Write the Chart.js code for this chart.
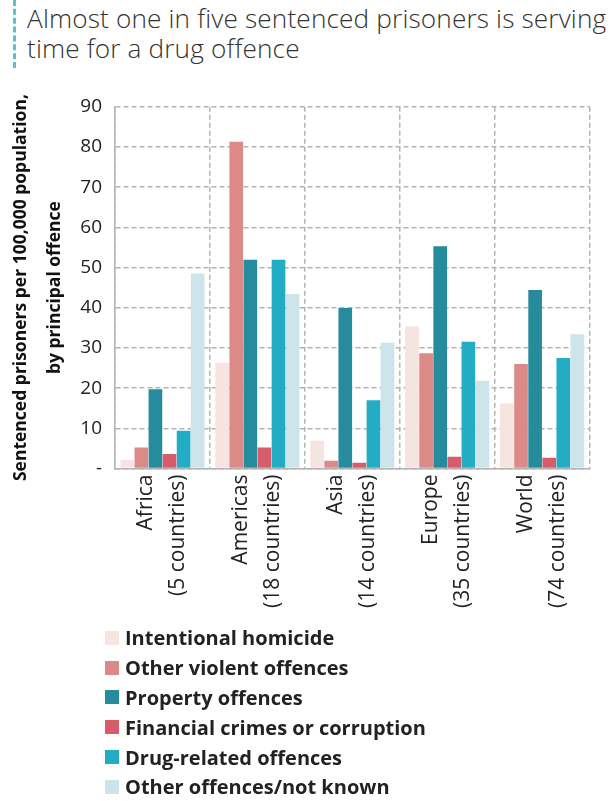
<!DOCTYPE html>
<html>
<head>
<meta charset="utf-8">
<script src="https://cdn.jsdelivr.net/npm/chart.js@4"></script>
<style>
  html, body { margin: 0; padding: 0; background: #fff; }
  body { width: 612px; height: 801px; position: relative; overflow: hidden; font-family: "Open Sans", "Noto Sans", sans-serif; }
  #rule { position: absolute; left: 13px; top: 0; height: 68px; border-left: 3px dashed #5bc0cf; }
  #title {
    position: absolute; left: 27px; top: 3px; width: 590px;
    font-size: 26.2px; line-height: 30px; color: #333; font-weight: 300; letter-spacing: 0.15px;
  }
  #wrap { position: absolute; left: 0; top: 0; width: 612px; height: 625px; }
  #legend { position: absolute; left: 105px; top: 623px; list-style: none; margin: 0; padding: 0; }
  #legend li { height: 29.8px; display: flex; align-items: center; font-weight: bold; font-size: 20px; color: #222; }
  #legend span { display: inline-block; width: 14px; height: 14px; margin-right: 6px; }
</style>
</head>
<body>
<div id="rule"></div>
<div id="title">Almost one in five sentenced prisoners is serving<br>time for a drug offence</div>
<div id="wrap"><canvas id="chart"></canvas></div>
<ul id="legend"></ul>
<script>
// categories and series
const regions = [
  ["Africa", "(5 countries)"],
  ["Americas", "(18 countries)"],
  ["Asia", "(14 countries)"],
  ["Europe", "(35 countries)"],
  ["World", "(74 countries)"]
];
const offences = [
  "Intentional homicide",
  "Other violent offences",
  "Property offences",
  "Financial crimes or corruption",
  "Drug-related offences",
  "Other offences/not known"
];
const homicide  = [2.1, 26.3, 6.9, 35.3, 16.2];
const violent   = [5.2, 81.3, 1.9, 28.7, 26.0];
const property  = [19.7, 51.9, 39.9, 55.3, 44.4];
const financial = [3.6, 5.2, 1.4, 2.9, 2.7];
const drugs     = [9.4, 51.9, 17.0, 31.5, 27.5];
const other     = [48.5, 43.4, 31.3, 21.8, 33.4];
const yTicks = [0, 10, 20, 30, 40, 50, 60, 70, 80, 90];

const colors = ["#f5e4df", "#db8a87", "#258b9d", "#d65c6b", "#22adc4", "#cde4eb"];
const series = [homicide, violent, property, financial, drugs, other];

// ------------------------------
// Legend (HTML, one per row)
// ------------------------------
const legend = document.getElementById("legend");
offences.forEach((name, i) => {
  const li = document.createElement("li");
  li.innerHTML = `<span style="background:${colors[i]}"></span>${name}`;
  legend.appendChild(li);
});

// ------------------------------
// Chart
// ------------------------------
const gridColor = "#b4b4b4";
const dashedBorder = { display: true, color: gridColor, width: 1.5, dash: [5, 3] };
const ctx = document.getElementById("chart").getContext("2d");
new Chart(ctx, {
  type: "bar",
  data: {
    labels: regions,
    datasets: offences.map((name, i) => ({
      label: name,
      data: series[i],
      backgroundColor: colors[i],
      borderWidth: 0,
      categoryPercentage: 0.89,
      barPercentage: 0.97
    }))
  },
  options: {
    responsive: true,
    maintainAspectRatio: false,
    animation: false,
    layout: { padding: { top: 106.7, left: 0, right: 0, bottom: 0 } },
    plugins: {
      legend: { display: false },
      tooltip: { enabled: false }
    },
    scales: {
      x: {
        afterFit: s => { s.height = 625 - 468.5; },
        grid: { color: gridColor, lineWidth: 1.5, drawTicks: false },
        border: dashedBorder,
        ticks: {
          color: "#222", font: { size: 21, family: "Open Sans", lineHeight: 1.52 },
          minRotation: 90, maxRotation: 90, padding: 6, labelOffset: -16
        }
      },
      y: {
        min: 0, max: 90,
        afterBuildTicks: axis => { axis.ticks = yTicks.map(v => ({ value: v })); },
        afterFit: s => { s.width = 115; },
        grid: { color: gridColor, lineWidth: 1.5, drawTicks: false },
        border: dashedBorder,
        ticks: {
          color: "#222", font: { size: 19, family: "Open Sans" }, padding: 13,
          callback: v => (v === 0 ? "-" : v)
        },
        title: {
          display: true,
          text: ["Sentenced prisoners per 100,000 population,", "by principal offence"],
          color: "#111",
          font: { size: 17.5, weight: "bold", family: "Open Sans", lineHeight: 1.94 },
          padding: { top: 4, bottom: 0 }
        }
      }
    }
  }
});
</script>
</body>
</html>
